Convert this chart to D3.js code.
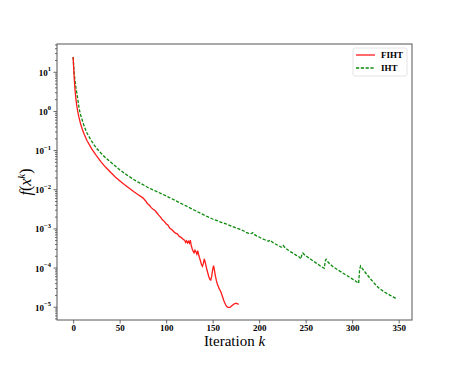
<!DOCTYPE html>
<html>
<head>
<meta charset="utf-8">
<script src="https://cdn.jsdelivr.net/npm/d3@7"></script>
<style>
body { margin: 0; background: #fff; }
.axis text { font-family: "Liberation Serif", serif; font-weight: bold; font-size: 9px; fill: #000; }
.axis path { display: none; }
.axis line { stroke: #444; stroke-width: 0.8; }
</style>
</head>
<body>
<div id="vis" style="width:457px;height:366px;"></div>
<script>
// values: iteration k and log10 f(x^k)
var fihtIter = [0, 1, 2, 3, 4, 5, 6, 8, 10, 12, 15, 20, 25, 30, 35, 40, 45, 50, 55, 60, 65, 70, 75, 78, 80, 82, 84, 86, 88, 90, 92, 94, 96, 98, 100, 102, 104, 106, 108, 110, 112, 114, 116, 118, 120, 121, 122, 123, 124, 125, 126, 127, 128, 129, 130, 131, 132, 133, 134, 135, 136, 137, 138, 139, 140, 141, 142, 143, 144, 145, 146, 147, 148, 149, 150, 151, 152, 153, 154, 155, 156, 157, 158, 159, 160, 161, 162, 163, 164, 165, 166, 167, 168, 169, 170, 171, 172, 173, 174, 175, 176, 177, 178];
var fihtLog10 = [1.38, 0.9, 0.55, 0.3, 0.12, -0.02, -0.14, -0.33, -0.48, -0.6, -0.76, -0.97, -1.14, -1.3, -1.44, -1.56, -1.68, -1.78, -1.88, -1.97, -2.06, -2.14, -2.22, -2.3, -2.37, -2.41, -2.47, -2.51, -2.54, -2.6, -2.66, -2.71, -2.78, -2.82, -2.88, -2.92, -3.0, -3.03, -3.08, -3.12, -3.14, -3.2, -3.23, -3.27, -3.31, -3.36, -3.32, -3.37, -3.33, -3.38, -3.3, -3.44, -3.52, -3.58, -3.62, -3.56, -3.6, -3.66, -3.57, -3.68, -3.76, -3.84, -3.92, -3.97, -3.9, -3.78, -3.86, -3.97, -4.07, -4.16, -4.24, -4.3, -4.32, -4.22, -4.05, -3.95, -4.08, -4.22, -4.33, -4.42, -4.48, -4.54, -4.58, -4.63, -4.7, -4.77, -4.84, -4.9, -4.95, -4.99, -5.01, -5.02, -5.02, -5.01, -4.99, -4.97, -4.95, -4.93, -4.92, -4.91, -4.92, -4.93, -4.94];
var ihtIter = [0, 1, 2, 3, 4, 5, 6, 7, 8, 10, 12, 15, 20, 25, 30, 35, 40, 45, 50, 55, 60, 65, 70, 75, 80, 90, 100, 110, 120, 130, 140, 150, 160, 165, 170, 180, 183, 186, 188, 190, 192, 193, 195, 198, 200, 203, 206, 208, 210, 211, 212, 214, 217, 220, 223, 225, 226, 228, 231, 234, 237, 240, 243, 245, 246, 247, 249, 252, 255, 258, 261, 264, 267, 270, 271, 272, 274, 277, 280, 284, 288, 292, 296, 300, 304, 307, 308, 309, 311, 314, 317, 320, 323, 326, 329, 332, 335, 338, 341, 344, 347];
var ihtLog10 = [1.38, 1.0, 0.78, 0.6, 0.45, 0.3, 0.13, 0.0, -0.1, -0.25, -0.4, -0.57, -0.78, -0.95, -1.08, -1.2, -1.3, -1.4, -1.5, -1.59, -1.67, -1.75, -1.82, -1.88, -1.95, -2.06, -2.17, -2.29, -2.41, -2.53, -2.65, -2.76, -2.85, -2.89, -2.94, -3.03, -3.06, -3.1, -3.12, -3.14, -3.13, -3.11, -3.16, -3.2, -3.22, -3.26, -3.29, -3.31, -3.33, -3.31, -3.3, -3.35, -3.39, -3.43, -3.47, -3.48, -3.44, -3.5, -3.55, -3.6, -3.64, -3.69, -3.73, -3.78, -3.66, -3.63, -3.68, -3.73, -3.78, -3.83, -3.88, -3.93, -3.98, -4.02, -3.84, -3.79, -3.86, -3.93, -3.99, -4.05, -4.11, -4.17, -4.23, -4.29, -4.35, -4.4, -4.06, -3.96, -4.03, -4.12, -4.21, -4.3, -4.38, -4.46, -4.53, -4.58, -4.63, -4.67, -4.71, -4.75, -4.79];
var xTicks = [0, 50, 100, 150, 200, 250, 300, 350];
var yExponents = [-5, -4, -3, -2, -1, 0, 1];
var seriesNames = ['FIHT', 'IHT'];

var width = 457, height = 366;
var margin = { top: 44, right: 45, bottom: 46, left: 57 };
var svg = d3.select('#vis').append('svg').attr('width', width).attr('height', height);
var w = width - margin.left - margin.right;
var h = height - margin.top - margin.bottom;
var g = svg.append('g').attr('transform', 'translate(' + margin.left + ',' + margin.top + ')');

var x_scale = d3.scaleLinear().domain([-17.35, 364.35]).range([0, w]);
var y_scale = d3.scaleLog().domain([Math.pow(10, -5.34), Math.pow(10, 1.71)]).range([h, 0]);

var fiht = fihtIter.map(function(k, i) { return { k: k, v: Math.pow(10, fihtLog10[i]) }; });
var iht = ihtIter.map(function(k, i) { return { k: k, v: Math.pow(10, ihtLog10[i]) }; });

// minor log ticks
var minor = [];
for (var e = -6; e <= 1; e++) {
	for (var m = 2; m <= 9; m++) {
		var val = m * Math.pow(10, e);
		if (val >= y_scale.domain()[0] && val <= y_scale.domain()[1]) minor.push(val);
	}
}

g.append('g').attr('class', 'axis').call(d3.axisLeft(y_scale).tickValues(minor).tickSize(2).tickFormat(''));
var y_axis = g.append('g').attr('class', 'axis y')
	.call(d3.axisLeft(y_scale).tickValues(yExponents.map(function(e) { return Math.pow(10, e); })).tickSize(3.5).tickFormat(''));
y_axis.selectAll('.tick').each(function(d, i) {
	var t = d3.select(this).append('text').attr('x', -6).attr('y', 3.5).attr('text-anchor', 'end');
	t.append('tspan').text('10');
	var ex = yExponents[i];
	t.append('tspan').attr('dy', -4.5).style('font-size', '6.5px').text(ex < 0 ? '\u2212' + (-ex) : '' + ex);
});

var x_axis = g.append('g').attr('class', 'axis x').attr('transform', 'translate(0,' + h + ')')
	.call(d3.axisBottom(x_scale).tickValues(xTicks).tickSize(3.5).tickPadding(1));

g.append('defs').append('clipPath').attr('id', 'clip').append('rect').attr('width', w).attr('height', h);

var line = d3.line().x(function(d) { return x_scale(d.k); }).y(function(d) { return y_scale(d.v); });

g.append('path').datum(iht).attr('clip-path', 'url(#clip)').attr('d', line)
	.attr('fill', 'none').attr('stroke', '#0b8a0b').attr('stroke-width', 1.3).attr('stroke-dasharray', '3.2,1.6');
g.append('path').datum(fiht).attr('clip-path', 'url(#clip)').attr('d', line)
	.attr('fill', 'none').attr('stroke', '#ff1a1a').attr('stroke-width', 1.3);

// frame
g.append('rect').attr('width', w).attr('height', h).attr('fill', 'none').attr('stroke', '#555').attr('stroke-width', 1);

// legend
var legend = g.append('g').attr('transform', 'translate(' + (w - 59) + ',4)');
legend.append('rect').attr('width', 54).attr('height', 28).attr('rx', 2)
	.attr('fill', '#fff').attr('stroke', '#ddd').attr('stroke-width', 0.8);
legend.append('line').attr('x1', 3).attr('x2', 22).attr('y1', 7).attr('y2', 7)
	.attr('stroke', '#ff1a1a').attr('stroke-width', 1.3);
legend.append('line').attr('x1', 3).attr('x2', 22).attr('y1', 20).attr('y2', 20)
	.attr('stroke', '#0b8a0b').attr('stroke-width', 1.3).attr('stroke-dasharray', '3.2,1.6');
legend.selectAll('.lab').data(seriesNames).enter().append('text').attr('class', 'lab')
	.attr('x', 28).attr('y', function(d, i) { return 10 + i * 13; })
	.style('font-family', '"Liberation Serif", serif').style('font-weight', 'bold').style('font-size', '9px')
	.text(function(d) { return d; });

// axis labels
svg.append('text').attr('x', margin.left + w / 2).attr('y', 346).attr('text-anchor', 'middle')
	.style('font-family', '"Liberation Serif", serif').style('font-size', '15px')
	.html('Iteration <tspan font-style="italic">k</tspan>');
var yl = svg.append('text').attr('transform', 'translate(31,' + (margin.top + h / 2) + ') rotate(-90)')
	.attr('text-anchor', 'middle')
	.style('font-family', '"Liberation Serif", serif').style('font-size', '16px');
yl.append('tspan').attr('font-style', 'italic').text('f');
yl.append('tspan').text('(');
yl.append('tspan').attr('font-style', 'italic').text('x');
yl.append('tspan').attr('font-style', 'italic').attr('dy', -6).style('font-size', '11px').text('k');
yl.append('tspan').attr('dy', 6).text(')');
</script>
</body>
</html>
